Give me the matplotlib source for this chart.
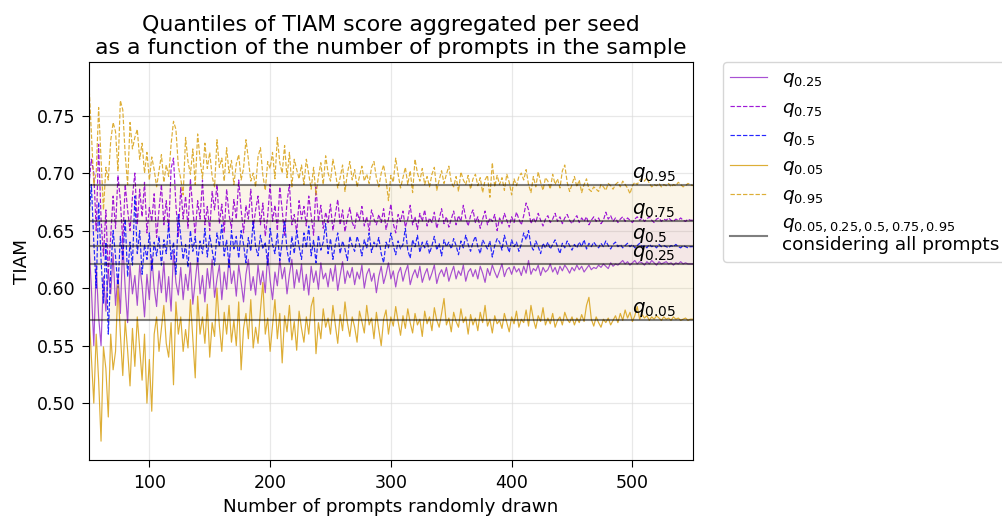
import matplotlib
matplotlib.use("Agg")
import matplotlib.pyplot as plt
import numpy as np

# Number of prompts in the sample (x axis)
n_prompts = list(range(50, 551, 2))

q95 = [
    0.777, 0.735, 0.690, 0.700, 0.757, 0.712, 0.668, 0.705, 0.694, 0.728,
    0.744, 0.736, 0.702, 0.763, 0.755, 0.716, 0.690, 0.744, 0.721, 0.731,
    0.738, 0.712, 0.726, 0.700, 0.718, 0.694, 0.714, 0.703, 0.688, 0.702,
    0.716, 0.692, 0.707, 0.697, 0.725, 0.745, 0.738, 0.706, 0.695, 0.681,
    0.731, 0.710, 0.699, 0.721, 0.690, 0.734, 0.712, 0.695, 0.726, 0.704,
    0.718, 0.697, 0.688, 0.729, 0.705, 0.713, 0.693, 0.722, 0.700, 0.711,
    0.690, 0.708, 0.716, 0.694, 0.704, 0.729, 0.712, 0.693, 0.700, 0.688,
    0.714, 0.722, 0.698, 0.685, 0.710, 0.704, 0.718, 0.695, 0.731, 0.709,
    0.700, 0.724, 0.696, 0.718, 0.688, 0.712, 0.703, 0.695, 0.707, 0.690,
    0.712, 0.699, 0.686, 0.705, 0.681, 0.697, 0.709, 0.690, 0.715, 0.700,
    0.693, 0.712, 0.701, 0.687, 0.696, 0.707, 0.684, 0.700, 0.710, 0.694,
    0.703, 0.688, 0.697, 0.706, 0.693, 0.699, 0.691, 0.705, 0.710, 0.696,
    0.688, 0.700, 0.707, 0.694, 0.676, 0.698, 0.692, 0.713, 0.699, 0.687,
    0.696, 0.705, 0.690, 0.702, 0.683, 0.712, 0.700, 0.693, 0.704, 0.690,
    0.697, 0.688, 0.699, 0.705, 0.685, 0.694, 0.702, 0.691, 0.699, 0.706,
    0.692, 0.688, 0.697, 0.684, 0.701, 0.694, 0.690, 0.698, 0.686, 0.695,
    0.699, 0.689, 0.696, 0.683, 0.694, 0.698, 0.679, 0.709, 0.688, 0.698,
    0.690, 0.696, 0.685, 0.699, 0.692, 0.681, 0.695, 0.689, 0.697, 0.700,
    0.694, 0.703, 0.690, 0.683, 0.697, 0.688, 0.701, 0.692, 0.685, 0.696,
    0.693, 0.686, 0.699, 0.690, 0.695, 0.687, 0.702, 0.707, 0.692, 0.684,
    0.690, 0.697, 0.688, 0.694, 0.683, 0.690, 0.695, 0.686, 0.684, 0.688,
    0.686, 0.684, 0.690, 0.688, 0.685, 0.691, 0.689, 0.686, 0.690, 0.692,
    0.688, 0.693, 0.690, 0.687, 0.682, 0.689, 0.692, 0.690, 0.694, 0.695,
    0.693, 0.696, 0.691, 0.688, 0.690, 0.689, 0.691, 0.688, 0.690, 0.689,
    0.691, 0.688, 0.690, 0.689, 0.692, 0.690, 0.688, 0.689, 0.691, 0.690,
    0.689,
]

q75 = [
    0.690, 0.712, 0.700, 0.650, 0.725, 0.660, 0.628, 0.668, 0.612, 0.645,
    0.680, 0.652, 0.698, 0.676, 0.640, 0.690, 0.668, 0.650, 0.679, 0.700,
    0.655, 0.686, 0.662, 0.692, 0.648, 0.670, 0.658, 0.682, 0.644, 0.668,
    0.690, 0.655, 0.676, 0.650, 0.704, 0.713, 0.672, 0.645, 0.688, 0.660,
    0.680, 0.652, 0.695, 0.668, 0.647, 0.676, 0.660, 0.694, 0.655, 0.671,
    0.650, 0.684, 0.668, 0.690, 0.656, 0.673, 0.648, 0.686, 0.664, 0.652,
    0.677, 0.660, 0.694, 0.668, 0.648, 0.672, 0.660, 0.686, 0.652, 0.668,
    0.680, 0.655, 0.674, 0.645, 0.663, 0.690, 0.658, 0.672, 0.650, 0.688,
    0.668, 0.645, 0.675, 0.690, 0.655, 0.664, 0.648, 0.676, 0.660, 0.671,
    0.654, 0.680, 0.663, 0.646, 0.688, 0.658, 0.672, 0.652, 0.666, 0.657,
    0.673, 0.650, 0.664, 0.677, 0.655, 0.668, 0.649, 0.661, 0.670, 0.657,
    0.652, 0.666, 0.659, 0.671, 0.654, 0.662, 0.650, 0.668, 0.660, 0.655,
    0.664, 0.657, 0.669, 0.651, 0.660, 0.673, 0.656, 0.648, 0.664, 0.658,
    0.667, 0.653, 0.660, 0.672, 0.655, 0.662, 0.651, 0.665, 0.658, 0.668,
    0.654, 0.661, 0.657, 0.666, 0.652, 0.660, 0.669, 0.656, 0.662, 0.653,
    0.660, 0.667, 0.655, 0.663, 0.658, 0.672, 0.661, 0.654, 0.663, 0.668,
    0.657, 0.662, 0.652, 0.660, 0.667, 0.655, 0.661, 0.658, 0.664, 0.650,
    0.661, 0.656, 0.665, 0.659, 0.653, 0.662, 0.657, 0.666, 0.660, 0.655,
    0.663, 0.674, 0.668, 0.656, 0.661, 0.657, 0.665, 0.659, 0.654, 0.660,
    0.663, 0.657, 0.660, 0.665, 0.658, 0.662, 0.656, 0.661, 0.664, 0.659,
    0.656, 0.660, 0.663, 0.657, 0.661, 0.658, 0.662, 0.655, 0.659, 0.662,
    0.658, 0.661, 0.656, 0.659, 0.666, 0.660, 0.663, 0.658, 0.661, 0.657,
    0.660, 0.662, 0.658, 0.661, 0.659, 0.657, 0.660, 0.662, 0.659, 0.661,
    0.658, 0.660, 0.662, 0.659, 0.657, 0.660, 0.661, 0.658, 0.660, 0.659,
    0.661, 0.659, 0.658, 0.660, 0.659, 0.661, 0.659, 0.658, 0.660, 0.659,
    0.659,
]

q50 = [
    0.660, 0.690, 0.640, 0.600, 0.675, 0.625, 0.587, 0.640, 0.560, 0.615,
    0.650, 0.628, 0.600, 0.645, 0.625, 0.660, 0.610, 0.640, 0.620, 0.680,
    0.630, 0.650, 0.612, 0.638, 0.625, 0.648, 0.615, 0.640, 0.628, 0.645,
    0.620, 0.642, 0.630, 0.656, 0.625, 0.640, 0.612, 0.664, 0.645, 0.625,
    0.638, 0.618, 0.650, 0.632, 0.645, 0.622, 0.641, 0.630, 0.652, 0.627,
    0.646, 0.633, 0.620, 0.648, 0.636, 0.655, 0.628, 0.642, 0.618, 0.650,
    0.634, 0.645, 0.626, 0.650, 0.638, 0.622, 0.644, 0.632, 0.658, 0.636,
    0.628, 0.646, 0.634, 0.640, 0.620, 0.652, 0.638, 0.630, 0.648, 0.624,
    0.640, 0.659, 0.633, 0.622, 0.645, 0.630, 0.650, 0.636, 0.625, 0.648,
    0.635, 0.654, 0.628, 0.642, 0.622, 0.646, 0.633, 0.640, 0.656, 0.630,
    0.643, 0.625, 0.638, 0.648, 0.630, 0.641, 0.634, 0.624, 0.645, 0.637,
    0.632, 0.645, 0.638, 0.628, 0.642, 0.635, 0.648, 0.631, 0.640, 0.636,
    0.644, 0.630, 0.622, 0.640, 0.635, 0.648, 0.637, 0.629, 0.641, 0.634,
    0.638, 0.652, 0.633, 0.626, 0.642, 0.636, 0.646, 0.631, 0.640, 0.635,
    0.641, 0.630, 0.637, 0.645, 0.633, 0.639, 0.628, 0.642, 0.636, 0.640,
    0.634, 0.643, 0.637, 0.629, 0.641, 0.635, 0.646, 0.638, 0.632, 0.640,
    0.645, 0.636, 0.630, 0.642, 0.638, 0.634, 0.641, 0.627, 0.637, 0.643,
    0.640, 0.633, 0.646, 0.638, 0.631, 0.642, 0.636, 0.640, 0.632, 0.638,
    0.648, 0.642, 0.650, 0.637, 0.633, 0.641, 0.636, 0.630, 0.639, 0.635,
    0.640, 0.634, 0.638, 0.642, 0.636, 0.630, 0.639, 0.635, 0.641, 0.637,
    0.633, 0.638, 0.635, 0.640, 0.636, 0.642, 0.634, 0.639, 0.636, 0.640,
    0.637, 0.635, 0.639, 0.636, 0.641, 0.637, 0.634, 0.638, 0.640, 0.636,
    0.638, 0.635, 0.637, 0.639, 0.636, 0.638, 0.635, 0.637, 0.639, 0.636,
    0.637, 0.635, 0.638, 0.636, 0.637, 0.635, 0.638, 0.636, 0.637, 0.636,
    0.635, 0.637, 0.636, 0.638, 0.636, 0.635, 0.637, 0.636, 0.635, 0.636,
    0.636,
]

q25 = [
    0.640, 0.600, 0.550, 0.620, 0.575, 0.550, 0.610, 0.580, 0.615, 0.595,
    0.630, 0.585, 0.612, 0.578, 0.640, 0.600, 0.570, 0.620, 0.595, 0.611,
    0.585, 0.620, 0.602, 0.575, 0.612, 0.590, 0.628, 0.600, 0.584, 0.615,
    0.596, 0.623, 0.588, 0.610, 0.580, 0.632, 0.605, 0.594, 0.618, 0.590,
    0.612, 0.598, 0.622, 0.586, 0.606, 0.626, 0.595, 0.611, 0.588, 0.617,
    0.600, 0.625, 0.592, 0.608, 0.620, 0.590, 0.614, 0.599, 0.628, 0.604,
    0.615, 0.593, 0.620, 0.605, 0.588, 0.612, 0.625, 0.598, 0.610, 0.594,
    0.620, 0.603, 0.615, 0.596, 0.630, 0.607, 0.590, 0.614, 0.602, 0.625,
    0.608, 0.618, 0.595, 0.612, 0.625, 0.600, 0.616, 0.605, 0.621, 0.598,
    0.612, 0.594, 0.619, 0.605, 0.615, 0.599, 0.622, 0.608, 0.613, 0.601,
    0.617, 0.606, 0.620, 0.598, 0.611, 0.623, 0.604, 0.615, 0.609, 0.618,
    0.603, 0.614, 0.608, 0.620, 0.600, 0.612, 0.617, 0.606, 0.613, 0.596,
    0.610, 0.619, 0.604, 0.612, 0.622, 0.608, 0.615, 0.601, 0.613, 0.618,
    0.606, 0.614, 0.620, 0.603, 0.611, 0.616, 0.609, 0.619, 0.605, 0.612,
    0.617, 0.607, 0.613, 0.620, 0.604, 0.612, 0.616, 0.610, 0.618, 0.606,
    0.613, 0.619, 0.608, 0.615, 0.611, 0.620, 0.606, 0.614, 0.617, 0.610,
    0.616, 0.608, 0.619, 0.613, 0.605, 0.617, 0.611, 0.620, 0.614, 0.609,
    0.615, 0.621, 0.610, 0.616, 0.618, 0.612, 0.619, 0.614, 0.617, 0.611,
    0.619, 0.613, 0.624, 0.612, 0.617, 0.615, 0.620, 0.611, 0.618, 0.614,
    0.616, 0.621, 0.614, 0.618, 0.612, 0.619, 0.615, 0.620, 0.617, 0.613,
    0.618, 0.615, 0.620, 0.616, 0.619, 0.614, 0.617, 0.620, 0.616, 0.618,
    0.617, 0.620, 0.618, 0.621, 0.619, 0.617, 0.622, 0.619, 0.621, 0.620,
    0.622, 0.624, 0.621, 0.623, 0.620, 0.622, 0.624, 0.621, 0.623, 0.622,
    0.620, 0.623, 0.621, 0.624, 0.622, 0.620, 0.623, 0.621, 0.622, 0.623,
    0.621, 0.622, 0.620, 0.622, 0.621, 0.623, 0.621, 0.622, 0.621, 0.621,
    0.621,
]

q05 = [
    0.580, 0.540, 0.500, 0.560, 0.520, 0.467, 0.549, 0.530, 0.488, 0.560,
    0.529, 0.545, 0.603, 0.560, 0.524, 0.572, 0.546, 0.515, 0.565, 0.532,
    0.575, 0.548, 0.520, 0.560, 0.500, 0.538, 0.493, 0.560, 0.575, 0.545,
    0.565, 0.585, 0.552, 0.540, 0.570, 0.516, 0.588, 0.560, 0.575, 0.545,
    0.564, 0.548, 0.590, 0.556, 0.522, 0.593, 0.560, 0.575, 0.552, 0.586,
    0.540, 0.570, 0.558, 0.600, 0.567, 0.545, 0.579, 0.560, 0.585, 0.553,
    0.572, 0.550, 0.588, 0.529, 0.565, 0.578, 0.556, 0.590, 0.548, 0.566,
    0.552, 0.581, 0.605, 0.560, 0.574, 0.545, 0.568, 0.590, 0.556, 0.578,
    0.535, 0.576, 0.562, 0.585, 0.555, 0.571, 0.546, 0.580, 0.565, 0.553,
    0.575, 0.560, 0.584, 0.592, 0.543, 0.570, 0.556, 0.582, 0.566, 0.574,
    0.560, 0.585, 0.568, 0.552, 0.577, 0.563, 0.588, 0.570, 0.558, 0.575,
    0.566, 0.553, 0.580, 0.571, 0.561, 0.585, 0.568, 0.574, 0.556, 0.579,
    0.564, 0.550, 0.573, 0.581, 0.560, 0.575, 0.567, 0.584, 0.571, 0.559,
    0.576, 0.565, 0.582, 0.570, 0.561, 0.578, 0.568, 0.573, 0.558, 0.580,
    0.569, 0.575, 0.563, 0.583, 0.572, 0.566, 0.578, 0.591, 0.568, 0.574,
    0.562, 0.579, 0.571, 0.566, 0.582, 0.570, 0.575, 0.560, 0.577, 0.568,
    0.574, 0.563, 0.579, 0.570, 0.585, 0.567, 0.573, 0.561, 0.576, 0.569,
    0.572, 0.565, 0.578, 0.570, 0.562, 0.575, 0.569, 0.580, 0.566, 0.573,
    0.570, 0.581, 0.567, 0.585, 0.573, 0.565, 0.576, 0.571, 0.583, 0.568,
    0.574, 0.569, 0.578, 0.566, 0.572, 0.575, 0.568, 0.579, 0.573, 0.570,
    0.575, 0.568, 0.574, 0.570, 0.577, 0.571, 0.585, 0.592, 0.573, 0.567,
    0.575, 0.570, 0.566, 0.573, 0.570, 0.574, 0.568, 0.572, 0.576, 0.570,
    0.578, 0.572, 0.581, 0.574, 0.579, 0.571, 0.576, 0.584, 0.573, 0.577,
    0.574, 0.576, 0.572, 0.575, 0.573, 0.576, 0.574, 0.572, 0.575, 0.573,
    0.574, 0.572, 0.575, 0.573, 0.574, 0.572, 0.573, 0.574, 0.572, 0.573,
    0.573,
]

# Quantiles considering all prompts
all_q_levels = ["0.05", "0.25", "0.5", "0.75", "0.95"]
all_q_values = [0.5724, 0.6210, 0.6363, 0.6587, 0.6894]

fig = plt.figure(figsize=(10.03, 5.17), dpi=100)
ax = fig.add_axes([0.0887, 0.110, 0.602, 0.770])

ax.grid(True, color="#d9d9d9", alpha=0.6, lw=0.9)
ax.set_axisbelow(True)

# shaded bands between global quantiles
ax.axhspan(all_q_values[0], all_q_values[4], color="goldenrod", alpha=0.10, lw=0)
ax.axhspan(all_q_values[1], all_q_values[3], color="darkorchid", alpha=0.07, lw=0)

lw = 0.85
ax.plot(n_prompts, q25, color="darkorchid", lw=lw, ls="-", alpha=0.85, label=r"$q_{0.25}$")
ax.plot(n_prompts, q75, color="darkviolet", lw=lw, ls="--", alpha=0.9, label=r"$q_{0.75}$")
ax.plot(n_prompts, q50, color="blue", lw=lw, ls="--", alpha=0.85, label=r"$q_{0.5}$")
ax.plot(n_prompts, q05, color="goldenrod", lw=lw, ls="-", alpha=0.9, label=r"$q_{0.05}$")
ax.plot(n_prompts, q95, color="goldenrod", lw=lw, ls="--", alpha=0.9, label=r"$q_{0.95}$")

for i, v in enumerate(all_q_values):
    ax.axhline(v, color="black", lw=1.5, alpha=0.5,
               label=(r"$q_{0.05, 0.25, 0.5, 0.75, 0.95}$" + "\nconsidering all prompts") if i == 0 else None)
    ax.text(500, v + 0.006, r"$q_{" + all_q_levels[i] + "}$", fontsize=14.3)

ax.set_xlim(50, 550)
ax.set_ylim(0.4505, 0.7965)
ax.set_xticks([100, 200, 300, 400, 500])
ax.set_yticks([0.50, 0.55, 0.60, 0.65, 0.70, 0.75])
ax.tick_params(labelsize=12.5, length=5, pad=5)
ax.set_xlabel("Number of prompts randomly drawn", fontsize=13.2)
ax.set_ylabel("TIAM", fontsize=13.2)
ax.set_title("Quantiles of TIAM score aggregated per seed\nas a function of the number of prompts in the sample",
             fontsize=15.8)

ax.legend(loc="upper left", bbox_to_anchor=(1.05, 1.0), borderaxespad=0, fontsize=13.3)

fig.savefig("out.png", dpi=100)
